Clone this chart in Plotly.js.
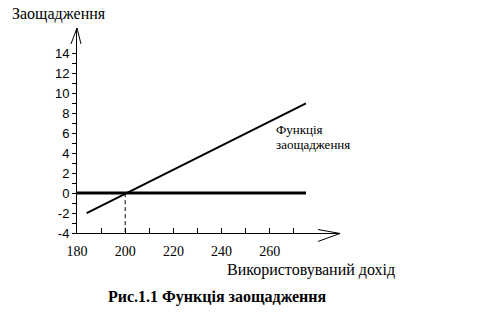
<!DOCTYPE html>
<html>
<head>
<meta charset="utf-8">
<script src="https://cdn.plot.ly/plotly-3.0.1.min.js"></script>
<style>html,body{margin:0;padding:0;background:#fff;}#chart{width:480px;height:320px;}</style>
</head>
<body>
<div id="chart"></div>
<script>
// Data
const incomeX = [184, 275];          // disposable income (line ends)
const savingsY = [-2, 9];            // savings at those incomes
const zeroLineX = [180, 275];
const zeroLineY = [0, 0];
const breakEvenX = [200, 200];
const breakEvenY = [0, -4];
const yTickVals = [-4,-3,-2,-1,0,1,2,3,4,5,6,7,8,9,10,11,12,13,14];
const yTickText = ['-4','','-2','','0','','2','','4','','6','','8','','10','','12','','14'];
const xTickVals = [180,190,200,210,220,230,240,250,260,270];
const xTickText = ['180','','200','','220','','240','','260',''];
const yTitle = 'Заощадження';
const xTitle = 'Використовуваний дохід';
const lineLabelLines = ['Функція', 'заощадження'];
const caption = 'Рис.1.1 Функція заощадження';

const W = 480, H = 320;
const M = {l: 77, r: 140, t: 28, b: 86.5};
const pw = W - M.l - M.r, ph = H - M.t - M.b;
const px = x => (x - M.l) / pw;
const py = y => (H - M.b - y) / ph;
const seg = (x0, y0, x1, y1) => ({type: 'line', xref: 'paper', yref: 'paper',
  x0: px(x0), y0: py(y0), x1: px(x1), y1: py(y1), line: {color: '#000', width: 1}});

const serif = 'Liberation Serif';
const sans = 'Liberation Sans';
const traces = [
  {x: zeroLineX, y: zeroLineY, mode: 'lines', line: {color: '#000', width: 3}, hoverinfo: 'skip'},
  {x: incomeX, y: savingsY, mode: 'lines', line: {color: '#000', width: 2}, hoverinfo: 'skip'},
  {x: breakEvenX, y: breakEvenY, mode: 'lines', line: {color: '#000', width: 1, dash: '4px,3px'}, hoverinfo: 'skip'}
];

const annotations = [
  {xref: 'paper', yref: 'paper', x: px(10), y: py(14), xanchor: 'left', yanchor: 'middle',
   text: yTitle, showarrow: false, font: {family: serif, size: 16, color: '#000'}},
  {xref: 'paper', yref: 'paper', x: px(397), y: py(271), xanchor: 'right', yanchor: 'middle',
   text: xTitle, showarrow: false, font: {family: serif, size: 16, color: '#000'}},
  {xref: 'paper', yref: 'paper', x: px(217), y: py(298), xanchor: 'center', yanchor: 'middle',
   text: '<b>' + caption + '</b>', showarrow: false, font: {family: serif, size: 16, color: '#000'}}
];
lineLabelLines.forEach((t, i) => annotations.push(
  {xref: 'paper', yref: 'paper', x: px(274), y: py(130 + i * 14.5), xanchor: 'left', yanchor: 'middle',
   text: t, showarrow: false, font: {family: serif, size: 13, color: '#000'}}));

const layout = {
  width: W, height: H,
  margin: M,
  paper_bgcolor: '#fff', plot_bgcolor: '#fff',
  showlegend: false,
  font: {size: 12, color: '#000'},
  xaxis: {range: [180, 180 + pw / 2.41], tickvals: xTickVals, ticktext: xTickText,
    ticks: 'inside', ticklen: 5, tickcolor: '#000', showline: true, linecolor: '#000', linewidth: 1,
    showgrid: false, zeroline: false, fixedrange: true, ticklabelstandoff: 5,
    tickfont: {family: serif, size: 14, color: '#000'}},
  yaxis: {range: [-4, -4 + ph / 10], tickvals: yTickVals, ticktext: yTickText,
    ticks: 'outside', ticklen: 4, tickcolor: '#000', showline: true, linecolor: '#000', linewidth: 1,
    showgrid: false, zeroline: false, fixedrange: true,
    tickfont: {family: sans, size: 13, color: '#000'}},
  shapes: [
    seg(71, 44, 77, 28), seg(77, 28, 81, 44),
    seg(318, 230, 340, 234), seg(340, 234, 318, 242)
  ],
  annotations: annotations
};
Plotly.newPlot('chart', traces, layout, {staticPlot: true, displayModeBar: false});
</script>
</body>
</html>
